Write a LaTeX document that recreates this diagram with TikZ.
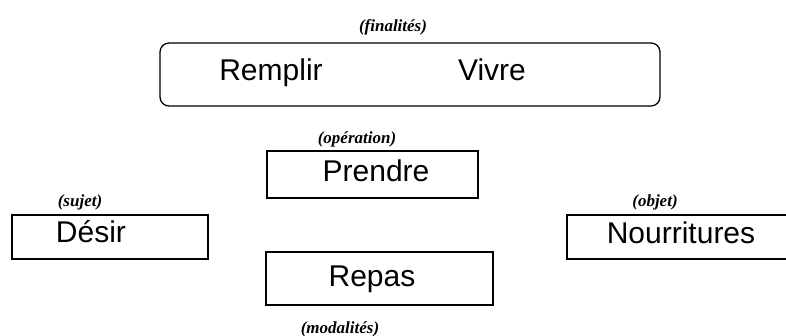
\documentclass[tikz,border=0pt]{standalone}
\usepackage{fontspec}
\setmainfont{Liberation Sans}
\newfontfamily\notefont{Liberation Serif}
\usetikzlibrary{positioning}

\begin{document}
\begin{tikzpicture}[
    x=1pt, y=-1pt,
    box/.style={rectangle, draw, line width=1.3pt, inner sep=0pt},
    word/.style={anchor=base, inner sep=0pt, font=\fontsize{30}{36}\selectfont},
    note/.style={inner sep=0pt, font=\notefont\bfseries\itshape\fontsize{17}{20}\selectfont}
]
    \useasboundingbox (0,0) rectangle (786,336);
    \clip (0,0) rectangle (786,336);

    % finalites
    \node[note] (finnote) at (393,27) {(finalités)};
    \node[box, rounded corners=9pt, minimum width=500pt, minimum height=63pt] (fin) at (410,74.5) {};
    \node[word] (remplir) at (271,81) {Remplir};
    \node[word] (vivre) at (492,81) {Vivre};

    % operation
    \node[note] (opnote) at (357,139) {(opération)};
    \node[box, minimum width=211pt, minimum height=47pt] (prendrebox) at (372.5,174.5) {};
    \node[word] (prendre) at (376,182) {Prendre};

    % sujet
    \node[note] (sujnote) at (80,202) {(sujet)};
    \node[box, minimum width=196pt, minimum height=44pt] (desirbox) at (110,237) {};
    \node[word] (desir) at (91,243) {Désir};

    % objet
    \node[note] (objnote) at (655,202) {(objet)};
    \node[box, minimum width=224pt, minimum height=44pt] (nourbox) at (679,237) {};
    \node[word] (nourritures) at (681,244) {Nourritures};

    % modalites
    \node[box, minimum width=227pt, minimum height=53pt] (repasbox) at (379.5,278.5) {};
    \node[word] (repas) at (372,287) {Repas};
    \node[note] (modnote) at (340,329) {(modalités)};
\end{tikzpicture}
\end{document}
